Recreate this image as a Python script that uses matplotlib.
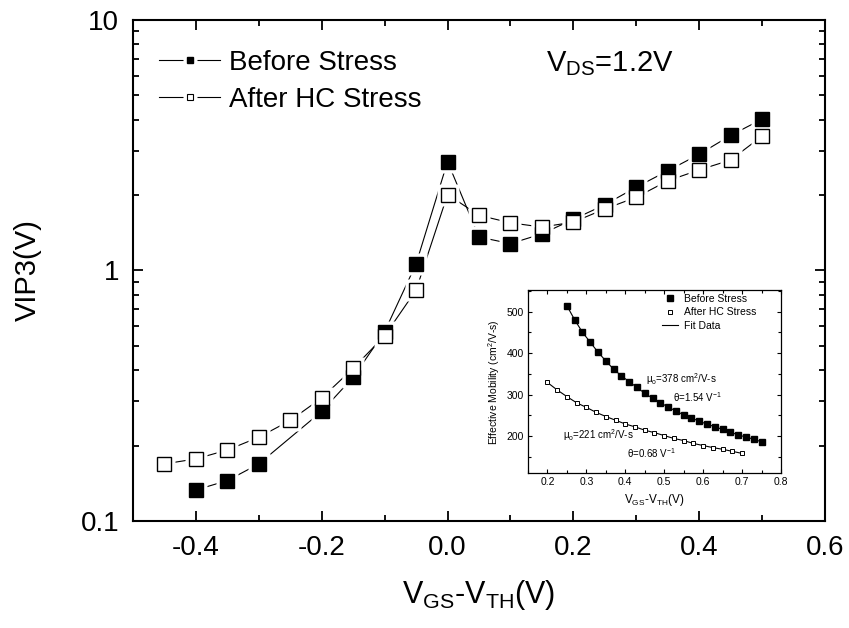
import numpy as np
import matplotlib
matplotlib.use("Agg")
import matplotlib.pyplot as plt
from matplotlib.lines import Line2D
from matplotlib.ticker import MultipleLocator, FixedLocator, NullFormatter

plt.rcParams['font.family'] = ['Liberation Sans', 'DejaVu Sans']
plt.rcParams['mathtext.fontset'] = 'custom'
plt.rcParams['mathtext.rm'] = 'Liberation Sans'
plt.rcParams['mathtext.it'] = 'Liberation Sans:italic'

# main plot data: VIP3 vs Vgs-Vth
x_before = [-0.4, -0.35, -0.3, -0.2, -0.15, -0.1, -0.05, 0.0, 0.05, 0.1, 0.15,
            0.2, 0.25, 0.3, 0.35, 0.4, 0.45, 0.5]
vip3_before = [0.133, 0.145, 0.169, 0.274, 0.375, 0.57, 1.063, 2.72, 1.36, 1.28, 1.40,
               1.60, 1.83, 2.15, 2.50, 2.91, 3.46, 4.02]
x_after = [-0.45, -0.4, -0.35, -0.3, -0.25, -0.2, -0.15, -0.1, -0.05, 0.0, 0.05, 0.1,
           0.15, 0.2, 0.25, 0.3, 0.35, 0.4, 0.45, 0.5]
vip3_after = [0.169, 0.177, 0.192, 0.216, 0.252, 0.310, 0.407, 0.549, 0.835, 2.01, 1.66, 1.55,
              1.49, 1.56, 1.76, 1.96, 2.28, 2.52, 2.76, 3.44]

# inset data: effective mobility
xin_before = [0.25, 0.27, 0.29, 0.31, 0.33, 0.35, 0.37, 0.39, 0.41, 0.43, 0.45, 0.47, 0.49,
              0.51, 0.53, 0.55, 0.57, 0.59, 0.61, 0.63, 0.65, 0.67, 0.69, 0.71, 0.73, 0.75]
mob_before = [514, 480, 450, 426, 402, 381, 361, 345, 331, 317, 303, 291, 280,
              270, 260, 251, 244, 235, 229, 222, 216, 210, 202, 198, 192, 186]
xin_after = [0.2, 0.225, 0.25, 0.275, 0.3, 0.325, 0.35, 0.375, 0.4, 0.425, 0.45, 0.475, 0.5,
             0.525, 0.55, 0.575, 0.6, 0.625, 0.65, 0.675, 0.7]
mob_after = [329, 311, 295, 280, 269, 257, 247, 238, 229, 222, 214, 208, 201,
             194, 189, 182, 177, 172, 168, 163, 158]

fig = plt.figure(figsize=(8.49, 6.28), dpi=100)
ax = fig.add_axes([0.1567, 0.1704, 0.815, 0.7978])

ms = 10
halo = 16
# lines, then white halos (gap around markers), then markers
ax.plot(x_before, vip3_before, color='black', lw=0.8, zorder=2)
ax.plot(x_after, vip3_after, color='black', lw=0.8, zorder=2)
ax.plot(x_before, vip3_before, ls='none', marker='s', ms=halo, mfc='white', mec='none', zorder=3)
ax.plot(x_after, vip3_after, ls='none', marker='s', ms=halo, mfc='white', mec='none', zorder=3)
ax.plot(x_before, vip3_before, ls='none', marker='s', ms=ms, mfc='black', mec='black', mew=1, zorder=4)
ax.plot(x_after, vip3_after, ls='none', marker='s', ms=ms, mfc='white', mec='black', mew=1, zorder=4)

ax.set_yscale('log')
ax.set_xlim(-0.5, 0.6)
ax.set_ylim(0.1, 10)
ax.set_xticks([-0.4, -0.2, 0.0, 0.2, 0.4, 0.6])
ax.set_xticklabels(['-0.4', '-0.2', '0.0', '0.2', '0.4', '0.6'])
ax.xaxis.set_minor_locator(MultipleLocator(0.1))
ax.yaxis.set_major_locator(FixedLocator([0.1, 1, 10]))
ax.set_yticklabels(['0.1', '1', '10'])
ax.yaxis.set_minor_locator(FixedLocator([k * 10.0 ** e for e in (-1, 0) for k in range(2, 10)]))
ax.yaxis.set_minor_formatter(NullFormatter())
ax.tick_params(which='both', direction='in', top=True, right=True, labelsize=20, width=1.3)
ax.tick_params(which='major', length=7, pad=10)
ax.tick_params(which='minor', length=4)
for s in ax.spines.values():
    s.set_linewidth(1.5)

ax.set_xlabel(r'V$_{\rm GS}$-V$_{\rm TH}$(V)', fontsize=22, labelpad=12)
ax.set_ylabel('VIP3(V)', fontsize=21, labelpad=28)

ax.text(0.597, 0.898, r'V$_{\rm DS}$=1.2V', transform=ax.transAxes, fontsize=21,
        ha='left', va='baseline')

h_before = (Line2D([], [], color='black', lw=0.8),
            Line2D([], [], ls='none', marker='s', ms=10, mfc='white', mec='none'),
            Line2D([], [], ls='none', marker='s', ms=5, mfc='black', mec='black'))
h_after = (Line2D([], [], color='black', lw=0.8),
           Line2D([], [], ls='none', marker='s', ms=10, mfc='white', mec='none'),
           Line2D([], [], ls='none', marker='s', ms=5, mfc='white', mec='black', mew=0.8))
ax.legend([h_before, h_after], ['Before Stress', 'After HC Stress'], loc='upper left',
          bbox_to_anchor=(0.038, 0.94), frameon=False, fontsize=20, handlelength=2.2,
          handletextpad=0.3, labelspacing=0.4, borderpad=0, borderaxespad=0)

# inset
axi = fig.add_axes([0.6219, 0.2463, 0.298, 0.2919])
axi.plot(xin_before, mob_before, color='black', lw=0.8, zorder=2)
axi.plot(xin_after, mob_after, color='black', lw=0.8, zorder=2)
axi.plot(xin_before, mob_before, ls='none', marker='s', ms=3.8, mfc='black', mec='black', zorder=3)
axi.plot(xin_after, mob_after, ls='none', marker='s', ms=3.5, mfc='white', mec='black', mew=0.7, zorder=3)
axi.set_xlim(0.15, 0.8)
axi.set_ylim(110, 552)
axi.set_xticks([0.2, 0.3, 0.4, 0.5, 0.6, 0.7, 0.8])
axi.set_xticklabels(['0.2', '0.3', '0.4', '0.5', '0.6', '0.7', '0.8'])
axi.xaxis.set_minor_locator(MultipleLocator(0.05))
axi.yaxis.set_major_locator(MultipleLocator(100))
axi.yaxis.set_minor_locator(MultipleLocator(50))
axi.tick_params(which='both', direction='in', top=True, right=True, labelsize=7.5, width=0.8, pad=3)
axi.tick_params(which='major', length=3)
axi.tick_params(which='minor', length=2)
for s in axi.spines.values():
    s.set_linewidth(0.9)
axi.set_xlabel(r'V$_{\rm GS}$-V$_{\rm TH}$(V)', fontsize=8.5, labelpad=3)
axi.set_ylabel(r'Effective Mobility (cm$^{2}$/V-s)', fontsize=7.5, labelpad=3)

axi.text(0.466, 0.514, r'μ$_{\rm o}$=378 cm$^{2}$/V-s', transform=axi.transAxes,
         fontsize=7, va='center')
axi.text(0.575, 0.417, r'θ=1.54 V$^{-1}$', transform=axi.transAxes,
         fontsize=7, va='center')
axi.text(0.137, 0.208, r'μ$_{\rm o}$=221 cm$^{2}$/V-s', transform=axi.transAxes,
         fontsize=7, va='center')
axi.text(0.39, 0.109, r'θ=0.68 V$^{-1}$', transform=axi.transAxes,
         fontsize=7, va='center')

hi = [Line2D([], [], ls='none', marker='s', ms=3.8, mfc='black', mec='black'),
      Line2D([], [], ls='none', marker='s', ms=3.5, mfc='white', mec='black', mew=0.7),
      Line2D([], [], color='black', lw=0.8)]
axi.legend(hi, ['Before Stress', 'After HC Stress', 'Fit Data'], loc='upper left',
           bbox_to_anchor=(0.53, 0.98), frameon=False, fontsize=7.5, handlelength=1.5,
           handletextpad=0.6, labelspacing=0.35, borderpad=0, borderaxespad=0)

fig.savefig('out.png', dpi=100)
